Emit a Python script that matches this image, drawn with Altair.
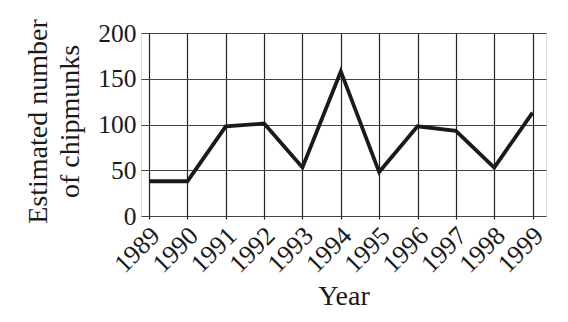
import altair as alt
import pandas as pd

years = [1989, 1990, 1991, 1992, 1993, 1994, 1995, 1996, 1997, 1998, 1999]
chipmunks = [38, 38, 98, 101, 53, 158, 48, 98, 93, 53, 113]
y_ticks = [0, 50, 100, 150, 200]

df = pd.DataFrame({"Year": years, "Chipmunks": chipmunks})

FONT = "Liberation Serif"

chart = alt.Chart(df).mark_line(
    color="#1a1a1a", strokeWidth=3.8, strokeJoin="miter"
).encode(
    x=alt.X(
        "Year:Q",
        scale=alt.Scale(domain=[1988.79, 1999.35], nice=False, zero=False),
        axis=alt.Axis(
            values=years, format="d", title="Year",
            labelAngle=-45, labelAlign="right", labelBaseline="top",
            labelFont=FONT, labelFontSize=26, labelColor="#1a1a1a",
            labelPadding=3, labelOffset=-3, labelOverlap=False, labelFlush=False,
            titleFont=FONT, titleFontSize=28, titleFontWeight="normal",
            titleColor="#1a1a1a", titlePadding=5,
            grid=True, gridColor="#222", gridWidth=1.2, gridOpacity=1,
            ticks=True, tickSize=3, tickColor="#222", tickWidth=1.2,
            domain=False,
        ),
    ),
    y=alt.Y(
        "Chipmunks:Q",
        scale=alt.Scale(domain=[0, 200], nice=False),
        axis=alt.Axis(
            values=y_ticks, title=["Estimated number", "of chipmunks"],
            labelFont=FONT, labelFontSize=25.5, labelColor="#1a1a1a",
            labelPadding=5,
            titleFont=FONT, titleFontSize=28, titleFontWeight="normal",
            titleColor="#1a1a1a", titleAngle=-90, titleAlign="center",
            titleBaseline="top", titleX=-117, titleY=88, titleLineHeight=32,
            grid=True, gridColor="#444", gridWidth=1.2, gridOpacity=1,
            ticks=False, domain=False,
        ),
    ),
).properties(
    width=405,
    height=183,
    autosize=alt.AutoSizeParams(type="none"),
    padding={"left": 141, "top": 33, "right": 22, "bottom": 106},
).configure_view(stroke=None).configure(background="white")

chart.save("out.html", embed_options={"renderer": "svg", "actions": False})
